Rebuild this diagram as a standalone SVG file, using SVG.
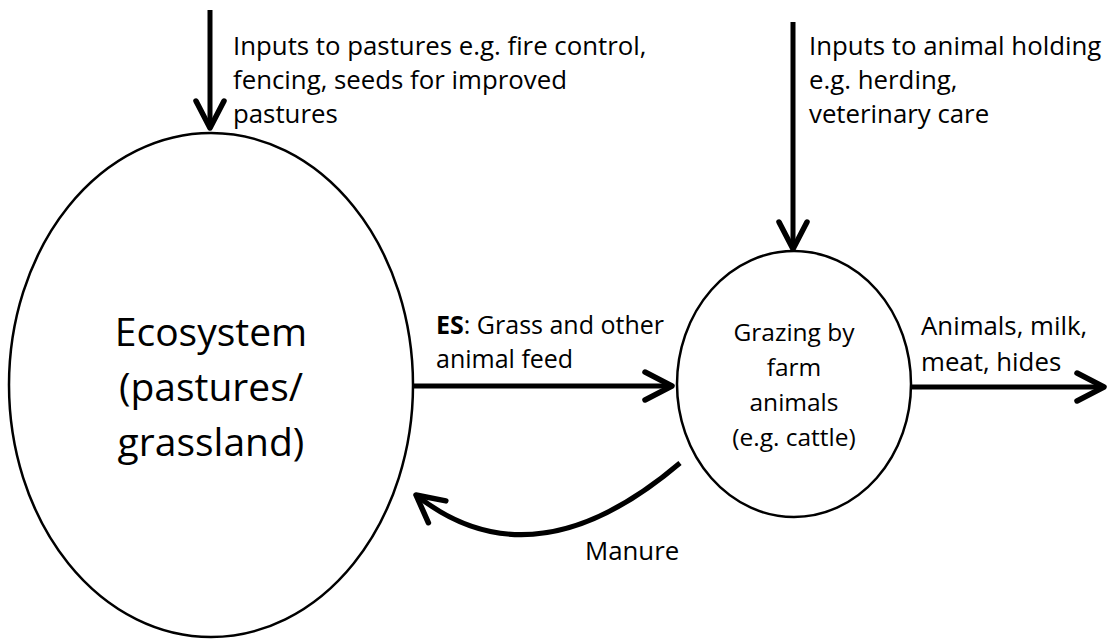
<svg xmlns="http://www.w3.org/2000/svg" width="1108" height="639" viewBox="0 0 1108 639">
<style>
  text { font-family: "Open Sans", "Liberation Sans", sans-serif; fill: #000; }
  .lbl { font-size: 25.8px; }
  .es { font-size: 25px; }
  .big { font-size: 39px; text-anchor: middle; }
  .mid { font-size: 24.5px; text-anchor: middle; }
  .node { fill: #fff; stroke: #000; stroke-width: 2.5; }
  .arrow { fill: none; stroke: #000; stroke-width: 5; marker-end: url(#chev); }
</style>
<defs>
  <marker id="chev" markerUnits="userSpaceOnUse" viewBox="-32 -18 36 36" refX="0" refY="0" markerWidth="36" markerHeight="36" orient="auto">
    <path d="M -27 -14 L 0 0 L -27 14" fill="none" stroke="#000" stroke-width="5.5" stroke-linecap="round" stroke-linejoin="round"/>
  </marker>
</defs>
<rect width="1108" height="639" fill="#fff"/>
<g id="connectors">
  <path class="arrow" d="M 210 10 L 210 128"/>
  <path class="arrow" d="M 793 22 L 793 249"/>
  <path class="arrow" d="M 413 386 L 672 386"/>
  <path class="arrow" d="M 911 387 L 1104 387"/>
  <path class="arrow" d="M 680 463 Q 533 588 416 495"/>
</g>
<g id="node-ecosystem">
  <ellipse class="node" cx="211" cy="385" rx="202" ry="252"/>
  <text class="big" x="211" y="346">Ecosystem</text>
  <text class="big" x="211" y="401">(pastures/</text>
  <text class="big" x="211" y="456">grassland)</text>
</g>
<g id="node-grazing">
  <ellipse class="node" cx="794" cy="384" rx="117" ry="133"/>
  <text class="mid" x="794" y="341">Grazing by</text>
  <text class="mid" x="794" y="376">farm</text>
  <text class="mid" x="794" y="411">animals</text>
  <text class="mid" x="794" y="446">(e.g. cattle)</text>
</g>
<g id="labels">
  <text class="lbl" x="233" y="55">Inputs to pastures e.g. fire control,</text>
  <text class="lbl" x="233" y="89">fencing, seeds for improved</text>
  <text class="lbl" x="233" y="123">pastures</text>
  <text class="lbl" x="809" y="55">Inputs to animal holding</text>
  <text class="lbl" x="809" y="89">e.g. herding,</text>
  <text class="lbl" x="809" y="123">veterinary care</text>
  <text class="es" x="436" y="334"><tspan font-weight="bold">ES</tspan>: Grass and other</text>
  <text class="es" x="436" y="368">animal feed</text>
  <text class="lbl" x="921" y="335">Animals, milk,</text>
  <text class="lbl" x="921" y="371">meat, hides</text>
  <text class="lbl" x="585" y="560">Manure</text>
</g>
</svg>
